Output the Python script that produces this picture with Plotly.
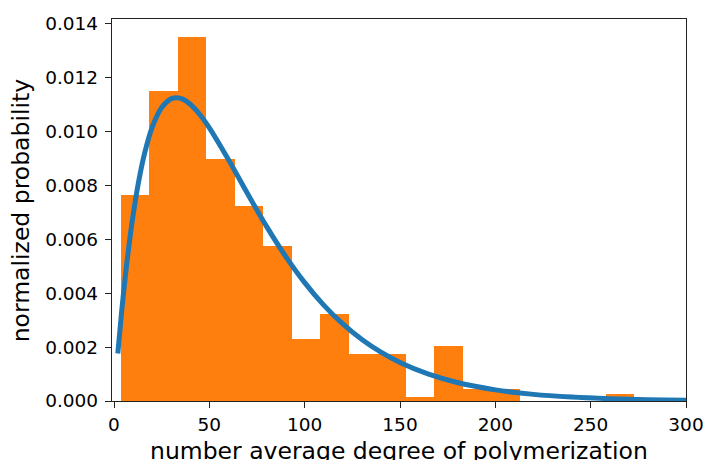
import plotly.graph_objects as go

# Histogram (normalized probability density)
bin_start = 3.5
bin_width = 14.96
bar_heights = [0.00764, 0.01151, 0.01350, 0.00898, 0.00724, 0.00576, 0.00229,
               0.00324, 0.00176, 0.00176, 0.000148, 0.00203, 0.00043, 0.00043,
               0.0, 0.0, 0.0, 0.00027]

# Fitted distribution curve
curve_x = [2, 4, 6, 8, 10, 13, 16, 20, 25, 30, 33, 36, 40, 45, 50, 60, 70, 80,
           90, 100, 110, 120, 130, 140, 150, 165, 180, 200, 220, 240, 260, 280, 300]
curve_y = [0.001759, 0.003310, 0.004670, 0.005858, 0.006888, 0.008169, 0.009174,
           0.010147, 0.010885, 0.011209, 0.011250, 0.011197, 0.011008, 0.010629,
           0.010135, 0.008958, 0.007697, 0.006478, 0.005367, 0.004392, 0.003558,
           0.002858, 0.002281, 0.001809, 0.001428, 0.000993, 0.000685, 0.000413,
           0.000246, 0.000146, 0.0000856, 0.0000500, 0.0000290]

x_ticks = [0, 50, 100, 150, 200, 250, 300]
y_ticks = [0.000, 0.002, 0.004, 0.006, 0.008, 0.010, 0.012, 0.014]
x_label = "number average degree of polymerization"
y_label = "normalized probability"

bar_centers = [bin_start + bin_width * (i + 0.5) for i in range(len(bar_heights))]

fig = go.Figure()
fig.add_trace(go.Bar(
    x=bar_centers, y=bar_heights, width=bin_width,
    marker=dict(color="#ff7f0e", line=dict(width=0)),
    showlegend=False, hoverinfo="skip",
))
fig.add_trace(go.Scatter(
    x=curve_x, y=curve_y, mode="lines",
    line=dict(color="#1f77b4", width=5, shape="spline", smoothing=0.8),
    showlegend=False,
))

font = "DejaVu Sans, Liberation Sans, sans-serif"
axis_common = dict(
    showline=True, mirror=True, linecolor="#222222", linewidth=1.4,
    ticks="outside", ticklen=6, tickwidth=1.4, tickcolor="#222222",
    showgrid=False, zeroline=False, automargin=False,
    tickfont=dict(family=font, size=18.5, color="black"),
)
fig.update_xaxes(range=[-1.05, 300], tickvals=x_ticks, ticklabelstandoff=1,
                 ticktext=[str(v) for v in x_ticks], **axis_common)
fig.update_yaxes(range=[0, 0.01417], tickvals=y_ticks, ticklabelstandoff=3,
                 ticktext=[f"{v:.3f}" for v in y_ticks], **axis_common)

fig.update_layout(
    width=704, height=460,
    margin=dict(l=112, r=18, t=19, b=59),
    paper_bgcolor="white", plot_bgcolor="white",
    bargap=0,
    annotations=[
        dict(text=x_label, xref="paper", yref="paper", x=0.5, y=-0.13,
             xanchor="center", yanchor="middle", showarrow=False,
             font=dict(family=font, size=23.5, color="black")),
        dict(text=y_label, xref="paper", yref="paper", x=-0.158, y=0.5,
             xanchor="center", yanchor="middle", showarrow=False, textangle=-90,
             font=dict(family=font, size=23.5, color="black")),
    ],
)

# remove the browser's default page margin so the figure fills the window
fig.write_html(
    "out.html",
    config={"displayModeBar": False},
    post_script="document.body.style.margin='0';document.body.style.overflow='hidden';",
)
